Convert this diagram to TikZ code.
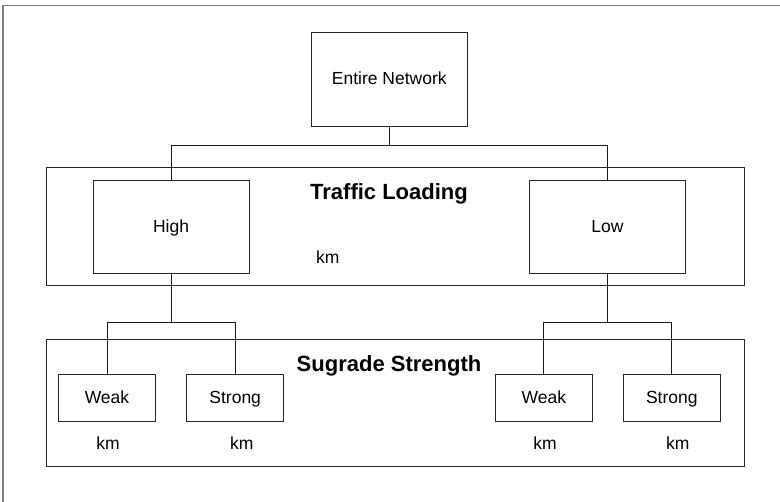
\documentclass[tikz,border=0pt]{standalone}
\usepackage{fontspec}
\setmainfont{Liberation Sans}
\usetikzlibrary{positioning,calc}
\tikzset{
  lvl/.style={rectangle,draw=black!85,line width=0.9pt,inner sep=0pt},
  leaf/.style={rectangle,draw=black!85,line width=0.9pt,align=center,inner sep=0pt,
    text height=11pt,text depth=0pt,font=\fontsize{17.5}{20}\selectfont},
  ttl/.style={font=\fontsize{22}{26}\selectfont\bfseries,inner sep=0pt,anchor=base},
  unit/.style={font=\fontsize{17.5}{20}\selectfont,inner sep=0pt,anchor=base},
  link/.style={draw=black!90,line width=0.9pt},
}

\begin{document}
\begin{tikzpicture}[x=1pt,y=-1pt]
  \useasboundingbox (0,0) rectangle (780,502);
  % cropped outer frame
  \draw[gray,line width=1.5pt] (3,502) -- (3,5.5) -- (780,5.5);
  \node[leaf,minimum width=156.7pt,minimum height=93.7pt] (net) at (389.3,79.2) {Entire Network};
  % traffic loading level
  \node[lvl,minimum width=698pt,minimum height=118.3pt] (traffic) at (395.3,226.5) {};
  \node[ttl] (traffictitle) at (389,199.4) {Traffic Loading};
  \node[leaf,minimum width=156pt,minimum height=93pt] (high) at (171,226.8) {High};
  \node[leaf,minimum width=156pt,minimum height=93pt] (low) at (607.5,226.8) {Low};
  \node[unit] (kmtraffic) at (327.7,263.3) {km};
  % subgrade level
  \node[lvl,minimum width=698pt,minimum height=127.4pt] (subgrade) at (395.3,403) {};
  \node[ttl] (subgradetitle) at (389,371.3) {Sugrade Strength};
  \foreach \nm/\xx/\txt in {weakh/107/Weak,strongh/235.2/Strong,weakl/543.8/Weak,strongl/671.8/Strong}
    \node[leaf,minimum width=97pt,minimum height=47pt] (\nm) at (\xx,398.2) {\txt};
  \foreach \nm/\xx in {weakh/108,strongh/241.7,weakl/545,strongl/677.7}
    \node[unit] (km\nm) at (\xx,449.3) {km};
  % tree links
  \coordinate (jtop) at (389.3,145.3);
  \coordinate (jhigh) at (171,322.7);
  \coordinate (jlow) at (607.5,322.7);
  \draw[link] (net.south) -- (jtop);
  \draw[link] (high.north) |- (jtop) -| (low.north);
  \draw[link] (high.south) -- (jhigh);
  \draw[link] (low.south) -- (jlow);
  \draw[link] (weakh.north) |- (jhigh) -| (strongh.north);
  \draw[link] (weakl.north) |- (jlow) -| (strongl.north);
\end{tikzpicture}
\end{document}
